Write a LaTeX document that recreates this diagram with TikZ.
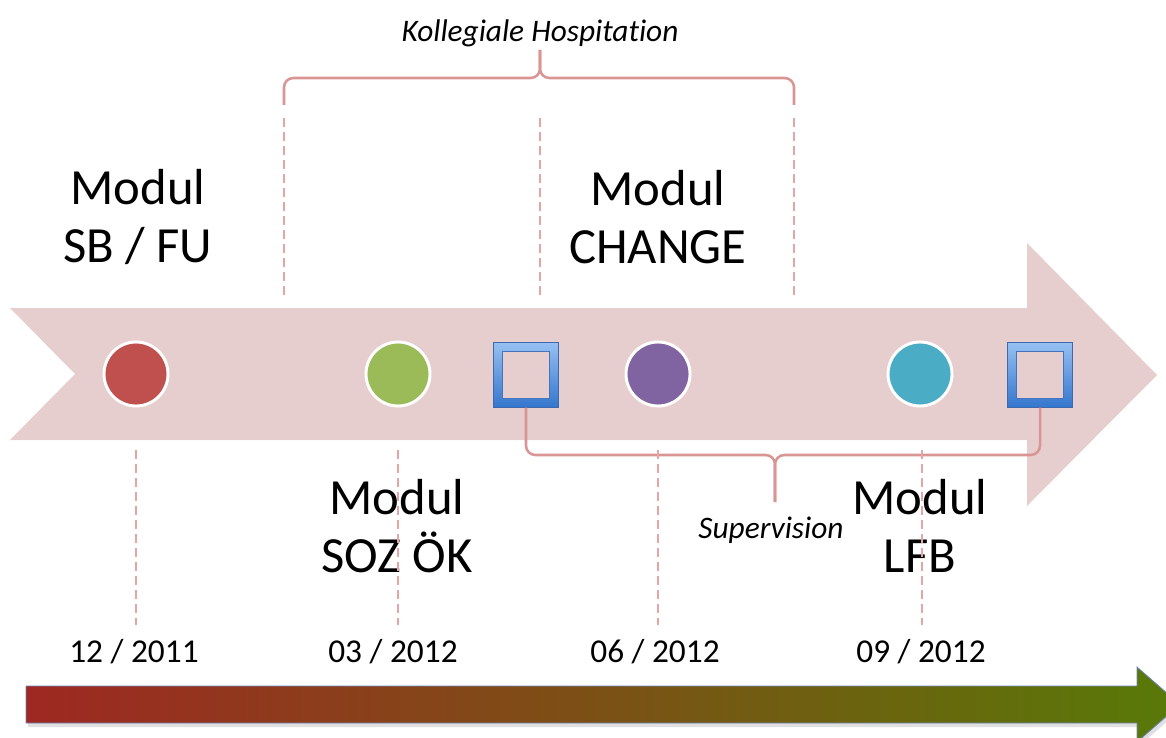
\documentclass[tikz,border=0pt]{standalone}
\usepackage{fontspec}
\setmainfont{Carlito}[Ligatures={NoCommon}]
\begin{document}
\begin{tikzpicture}[x=0.75pt,y=0.75pt,yscale=-1,xscale=1,
	modtxt/.style={align=center,inner sep=0pt,font=\fontsize{38}{44}\selectfont},
	datetxt/.style={inner sep=0pt,font=\fontsize{25}{30}\selectfont},
	itxt/.style={inner sep=0pt,font=\fontsize{23.5}{28}\selectfont\itshape},
	dot/.style={circle,draw=white,line width=2.2pt,minimum size=48pt,inner sep=0pt},
	sqbox/.style={rectangle,minimum size=48.5pt,inner sep=0pt,draw={rgb, 255:red, 60; green, 105; blue, 175 },line width=0.6pt,top color={rgb, 255:red, 150; green, 192; blue, 242 },bottom color={rgb, 255:red, 52; green, 118; blue, 205 }},
	sqhole/.style={rectangle,minimum size=35pt,inner sep=0pt,fill={rgb, 255:red, 231; green, 206; blue, 206 },draw={rgb, 255:red, 70; green, 115; blue, 185 },line width=0.4pt},
	guide/.style={draw={rgb, 255:red, 228; green, 165; blue, 165 },line width=1.7pt,dash pattern={on 6.5pt off 4pt}},
	brace/.style={draw={rgb, 255:red, 217; green, 149; blue, 148 },line width=1.9pt,rounded corners=7pt}
	]
	\useasboundingbox (0,0) rectangle (1166,738);
	%Shape: Pink Arrow
	\fill [color={rgb, 255:red, 231; green, 206; blue, 206 }] (10,308) -- (1027,308) -- (1027,243) -- (1157,375) -- (1027,506) -- (1027,440) -- (10,440) -- (75,374) -- cycle ;
	%Shape: Time Arrow
	\fill [color={rgb, 255:red, 0; green, 0; blue, 0 }, opacity=0.12] (28,690) -- (1139,690) -- (1139,671) -- (1182,708.5) -- (1139,746) -- (1139,727) -- (28,727) -- cycle ;
	\draw [draw={rgb, 255:red, 110; green, 135; blue, 190 }, line width=0.6pt, left color={rgb, 255:red, 158; green, 40; blue, 34 }, right color={rgb, 255:red, 88; green, 122; blue, 8 }] (26,686) -- (1137,686) -- (1137,667) -- (1180,704.5) -- (1137,742) -- (1137,723) -- (26,723) -- cycle ;

	% Circle Nodes
	\node [dot, fill={rgb, 255:red, 192; green, 80; blue, 77 }] (sbfu) at (136,374) {};
	\node [dot, fill={rgb, 255:red, 155; green, 187; blue, 89 }] (sozok) at (398,374) {};
	\node [dot, fill={rgb, 255:red, 128; green, 100; blue, 162 }] (change) at (658,374) {};
	\node [dot, fill={rgb, 255:red, 75; green, 172; blue, 198 }] (lfb) at (920,374) {};
	% Square Nodes
	\node [sqbox] (sup1) at (526,375) {};
	\node [sqhole] (sup1h) at (sup1) {};
	\node [sqbox] (sup2) at (1040,375) {};
	\node [sqhole] (sup2h) at (sup2) {};

	%Brace: Supervision
	\coordinate (svbar) at (775,455);
	\coordinate (svtip) at (775,502);
	\draw [brace] (sup1.south) |- (svbar) -- (svtip) ;
	\draw [brace] (sup2.south) |- (svbar) -- (svtip) ;
	%Brace: Kollegiale Hospitation
	\coordinate (khbar) at (540,78);
	\coordinate (khtip) at (540,50);
	\draw [brace] (284,105) |- (khbar) -- (khtip) ;
	\draw [brace] (794,105) |- (khbar) -- (khtip) ;

	% Text Node
	\node [modtxt] (tsbfu) at (138,217) {Modul\\SB / FU};
	% Text Node
	\node [modtxt] (tchange) at (658,217) {Modul\\CHANGE};
	% Text Node
	\node [modtxt] (tsozok) at (397,526) {Modul\\SOZ ÖK};
	% Text Node
	\node [modtxt] (tlfb) at (920,526) {Modul\\LFB};
	% Text Node
	\node [itxt] (tkh) at (540,33) {Kollegiale Hospitation};
	% Text Node
	\node [itxt] (tsv) at (771,530) {Supervision};
	% Text Node
	\node [datetxt] (d1) at (134,652) {12 / 2011};
	% Text Node
	\node [datetxt] (d2) at (393,652) {03 / 2012};
	% Text Node
	\node [datetxt] (d3) at (655,652) {06 / 2012};
	% Text Node
	\node [datetxt] (d4) at (921,652) {09 / 2012};

	%Straight Lines: guides
	\draw [guide] (284,118) -- (284,295) ;
	\draw [guide] (540,118) -- (540,295) ;
	\draw [guide] (794,118) -- (794,295) ;
	\draw [guide] (136,450) -- (136,625) ;
	\draw [guide] (398,450) -- (398,625) ;
	\draw [guide] (658,450) -- (658,625) ;
	\draw [guide] (922,450) -- (922,625) ;
\end{tikzpicture}
\end{document}
